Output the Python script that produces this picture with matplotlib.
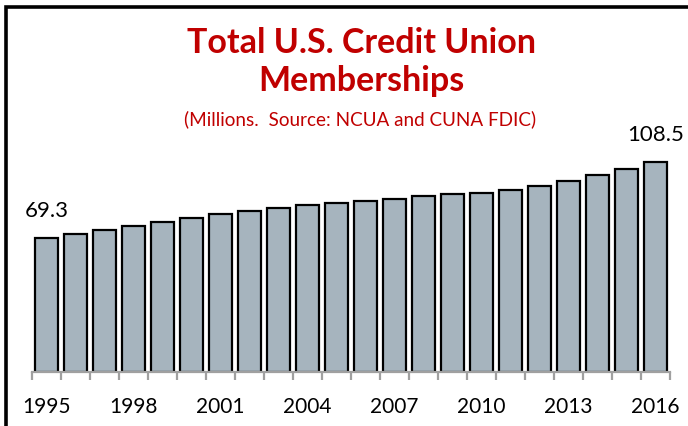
import matplotlib
matplotlib.use("Agg")
import matplotlib.pyplot as plt
from matplotlib.patches import Rectangle
import numpy as np

# data (millions of members)
years = list(range(1995, 2017))
members = [69.3, 71.4, 73.6, 75.5, 77.6, 79.8, 81.6, 83.4, 84.8, 86.2, 87.2,
           88.5, 89.5, 90.9, 92.2, 92.8, 94.2, 96.1, 98.7, 101.8, 105.2, 108.5]
shown_years = [1995, 1998, 2001, 2004, 2007, 2010, 2013, 2016]
label_idx = [0, len(years) - 1]

title = "Total U.S. Credit Union\nMemberships"
subtitle = "(Millions.  Source: NCUA and CUNA FDIC)"

RED = "#C00000"
BAR = "#A6B4BE"
AXIS = "#A0A0A0"
plt.rcParams["font.family"] = ["Lato", "DejaVu Sans"]

W, H = 688, 427
fig = plt.figure(figsize=(W / 100, H / 100), dpi=100)
fig.patch.set_facecolor("white")

# outer frame, runs off the right and bottom edges like the screenshot
fig.patches.append(Rectangle((6 / W, -0.2), 1.2, (H - 8) / H + 0.2, transform=fig.transFigure,
                             fill=False, ec="black", lw=2.6, zorder=0))

ylim_top = 110
px_per_unit = 1.933
ax = fig.add_axes([32 / W, 54 / H, 638 / W, ylim_top * px_per_unit / H])
x = np.arange(len(years))
ax.bar(x, members, width=0.76, color=BAR, edgecolor="black", linewidth=1.6, zorder=2)
ax.set_xlim(-0.5, len(years) - 0.5)
ax.set_ylim(0, ylim_top)

for spine in ["left", "right", "top"]:
    ax.spines[spine].set_visible(False)
ax.spines["bottom"].set_color(AXIS)
ax.spines["bottom"].set_linewidth(1.6)
ax.set_yticks([])

ax.set_xticks([years.index(y) for y in shown_years])
ax.set_xticklabels([str(y) for y in shown_years], fontsize=15)
ax.tick_params(axis="x", which="major", length=0, pad=17)
ax.set_xticks(np.arange(-0.5, len(years), 1.0), minor=True)
ax.tick_params(axis="x", which="minor", length=6, width=1.6, color=AXIS)

for i in label_idx:
    ax.annotate(f"{members[i]:.1f}", (x[i], members[i]), xytext=(0, 13),
                textcoords="offset points", ha="center", va="bottom",
                fontsize=16, clip_on=False)

fig.text(361 / W, 1 - 62 / H, title, ha="center", va="center", fontsize=24.5,
         fontweight="bold", color=RED, linespacing=1.2)
fig.text(360 / W, 1 - 119 / H, subtitle, ha="center", va="center", fontsize=13.6, color=RED)

fig.savefig("out.png", dpi=100)
